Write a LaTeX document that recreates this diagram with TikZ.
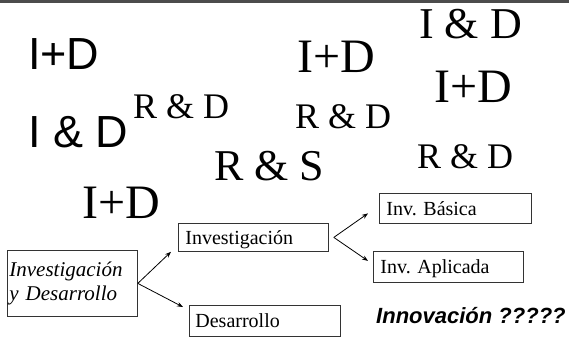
\documentclass[tikz,border=0pt]{standalone}
\usepackage{fontspec}
\setmainfont{Liberation Serif}
\setsansfont{Liberation Sans}
\usetikzlibrary{arrows.meta,positioning}
\frenchspacing
\newcommand{\setfs}[1]{\fontsize{#1pt}{1.2\dimexpr #1pt\relax}\selectfont}
\tikzset{%
  box/.style      = {shape=rectangle, draw=black!80, line width=0.8pt,%
                     anchor=north west, align=left, inner xsep=7pt,%
                     font=\setfs{20}},%
  oneline/.style  = {box, inner ysep=0pt, text height=15pt, text depth=1pt},%
  serifword/.style = {anchor=base west, inner sep=0pt, font=\setfs{#1}},%
  sansword/.style = {anchor=base west, inner sep=0pt, font=\sffamily\setfs{#1}},%
  link/.style     = {-{Stealth[length=6pt,width=4.5pt]}, line width=0.8pt}%
}
\begin{document}
\begin{tikzpicture}[x=1pt, y=-1pt]%
	\useasboundingbox (0,0) rectangle (569,337);
	\draw[black!70, line width=3pt] (0,1.5) -- (569,1.5);
	% the scattered acronyms
	\node[sansword=45] (idsa) at (28,69) {I+D};
	\node[sansword=45] (idsb) at (28,147) {I \& D};
	\node[serifword=36] (rda) at (133,118) {R \& D};
	\node[serifword=44] (rs) at (214,180) {R \& S};
	\node[serifword=48] (ida) at (82,218) {I+D};
	\node[serifword=48] (idb) at (297,72) {I+D};
	\node[serifword=44] (idc) at (419,38) {I \& D};
	\node[serifword=48] (idd) at (434,102) {I+D};
	\node[serifword=36] (rdb) at (295,128) {R \& D};
	\node[serifword=36] (rdc) at (417,168) {R \& D};
	% the boxes
	\node[box, font=\itshape\fontsize{21pt}{24pt}\selectfont, inner xsep=2pt,%
		text width=126pt, minimum height=66pt] (iyd) at (7,250) {Investigación\\y Desarrollo};
	\node[oneline, text width=136pt, minimum height=28pt] (inv) at (178,223) {Investigación};
	\node[oneline, text width=138pt, minimum height=30pt] (basica) at (379,193) {Inv. Básica};
	\node[oneline, text width=136pt, minimum height=31pt] (aplicada) at (373,251) {Inv. Aplicada};
	\node[oneline, inner xsep=6pt, text width=139pt, minimum height=31pt] (desarrollo) at (189,305) {Desarrollo};
	\node[anchor=base west, inner sep=0pt, font=\sffamily\bfseries\itshape\setfs{22}] (innov) at (376,323) {Innovación ?????};
	% the arrows
	\draw[link] (iyd.east) -- ([xshift=-7pt]inv.south west);
	\draw[link] (iyd.east) -- ([shift={(-6pt,-2pt)}]desarrollo.north west);
	\draw[link] ([xshift=5pt]inv.east) -- ([shift={(-11pt,-5pt)}]basica.west);
	\draw[link] ([xshift=5pt]inv.east) -- ([shift={(-5pt,6pt)}]aplicada.west);
\end{tikzpicture}
\end{document}
